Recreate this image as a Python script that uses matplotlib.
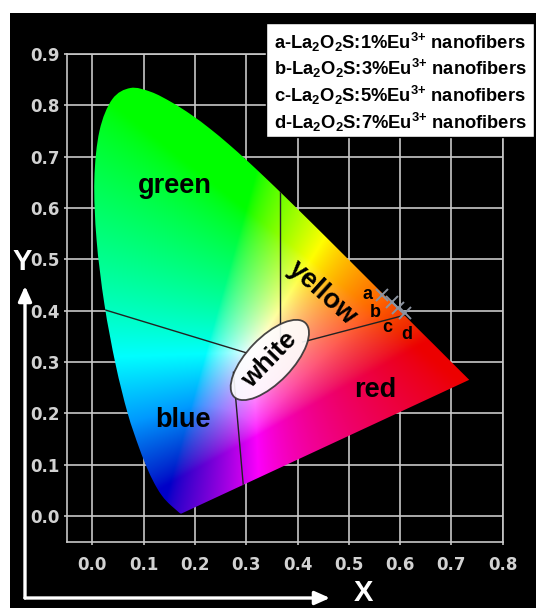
import numpy as np
import matplotlib.pyplot as plt
from matplotlib.path import Path
from matplotlib.patches import PathPatch, Ellipse, Rectangle, FancyArrowPatch

plt.rcParams['mathtext.fontset'] = 'custom'
plt.rcParams['mathtext.rm'] = 'Liberation Sans:bold'
plt.rcParams['mathtext.bf'] = 'Liberation Sans:bold'
plt.rcParams['mathtext.default'] = 'bf'

# CIE 1931 spectral locus (2 deg observer), 380 -> 700 nm
locus_x = [0.1741, 0.1738, 0.1733, 0.1726, 0.1714, 0.1689, 0.1644, 0.1566,
           0.1510, 0.1440, 0.1355, 0.1241, 0.1096, 0.0913, 0.0687, 0.0454,
           0.0235, 0.0082, 0.0039, 0.0139, 0.0389, 0.0743, 0.1142, 0.1547,
           0.1929, 0.2296, 0.2658, 0.3016, 0.3373, 0.3731, 0.4087, 0.4441,
           0.4788, 0.5125, 0.5448, 0.5752, 0.6029, 0.6270, 0.6482, 0.6658,
           0.6915, 0.7079, 0.7190, 0.7260, 0.7300, 0.7334, 0.7347]
locus_y = [0.0050, 0.0049, 0.0048, 0.0048, 0.0051, 0.0069, 0.0109, 0.0177,
           0.0227, 0.0297, 0.0399, 0.0578, 0.0868, 0.1327, 0.2007, 0.2950,
           0.4127, 0.5384, 0.6548, 0.7502, 0.8120, 0.8338, 0.8262, 0.8059,
           0.7816, 0.7543, 0.7243, 0.6923, 0.6589, 0.6245, 0.5896, 0.5547,
           0.5202, 0.4866, 0.4544, 0.4242, 0.3965, 0.3725, 0.3514, 0.3340,
           0.3083, 0.2920, 0.2809, 0.2740, 0.2700, 0.2666, 0.2653]

# colour region names
region_names = ['green', 'yellow', 'blue', 'red']
region_x = [0.161, 0.448, 0.177, 0.551]
region_y = [0.643, 0.435, 0.187, 0.246]
region_rot = [0, -42, 0, 0]

# boundaries between the regions (start, end)
border_x = [(0.366, 0.366), (0.02, 0.30), (0.41, 0.65), (0.275, 0.296)]
border_y = [(0.66, 0.34), (0.403, 0.318), (0.339, 0.402), (0.28, 0.04)]

# chromaticity coordinates of the samples
sample_ids = ['a', 'b', 'c', 'd']
sample_x = [0.565, 0.584, 0.596, 0.609]
sample_y = [0.431, 0.417, 0.405, 0.396]
sample_lab_x = [0.537, 0.552, 0.575, 0.612]
sample_lab_y = [0.431, 0.397, 0.368, 0.354]

legend_lines = [r'a-La$_2$O$_2$S:1%Eu$^{3{+}}$ nanofibers',
                r'b-La$_2$O$_2$S:3%Eu$^{3{+}}$ nanofibers',
                r'c-La$_2$O$_2$S:5%Eu$^{3{+}}$ nanofibers',
                r'd-La$_2$O$_2$S:7%Eu$^{3{+}}$ nanofibers']

xticks = [0.0, 0.1, 0.2, 0.3, 0.4, 0.5, 0.6, 0.7, 0.8]
yticks = [0.0, 0.1, 0.2, 0.3, 0.4, 0.5, 0.6, 0.7, 0.8, 0.9]

W, H = 536, 608
fig = plt.figure(figsize=(W / 100, H / 100), dpi=100)
fig.patch.set_facecolor('white')
fig.patches.append(Rectangle((10 / W, 0), 1, 1 - 13 / H, transform=fig.transFigure,
                             facecolor='black', edgecolor='none', zorder=-5))

ax = fig.add_axes([66.7 / W, 1 - 541.7 / H, 436 / W, 487.7 / H])
ax.set_facecolor('black')
ax.set_xlim(-0.05, 0.8)
ax.set_ylim(-0.05, 0.9)

# xy -> sRGB colour fill of the gamut
gx, gy = np.meshgrid(np.linspace(0.0, 0.75, 600), np.linspace(0.002, 0.85, 680))
XYZ = np.stack([gx / gy, np.ones_like(gx), (1 - gx - gy) / gy])
M = np.array([[3.2406, -1.5372, -0.4986],
              [-0.9689, 1.8758, 0.0415],
              [0.0557, -0.2040, 1.0570]])
lin = np.einsum('ij,jkl->kli', M, XYZ)
lin = np.clip(lin, 0, None)
lin[..., 1] *= 1.1
lin /= lin.max(axis=2, keepdims=True)
lin = lin ** 1.4  # push colours away from the white point
lum = lin @ np.array([0.2126, 0.7152, 0.0722])
lin *= (0.45 + 0.55 * np.clip(lum / 0.3, 0, 1))[..., None]
rgb = np.where(lin <= 0.0031308, 12.92 * lin, 1.055 * lin ** (1 / 2.4) - 0.055)

# smooth outline through the locus points (Catmull-Rom as cubic Beziers)
P = np.column_stack([locus_x, locus_y])
verts, codes = [P[0]], [Path.MOVETO]
for i in range(len(P) - 1):
    p0 = P[max(i - 1, 0)]
    p3 = P[min(i + 2, len(P) - 1)]
    verts += [P[i] + (P[i + 1] - p0) / 6, P[i + 1] - (p3 - P[i]) / 6, P[i + 1]]
    codes += [Path.CURVE4] * 3
verts += [P[0]]
codes += [Path.CLOSEPOLY]
locus = PathPatch(Path(verts, codes), facecolor='none', edgecolor='none',
                  transform=ax.transData)
ax.add_patch(locus)
im = ax.imshow(np.clip(rgb, 0, 1), extent=[0.0, 0.75, 0.002, 0.85], origin='lower',
               interpolation='bilinear', zorder=1, aspect='auto')
im.set_clip_path(locus)

for bx, by in zip(border_x, border_y):
    ln, = ax.plot(bx, by, color='#222222', lw=1.0, zorder=2)
    ln.set_clip_path(locus)

ax.add_patch(Ellipse((0.346, 0.304), 0.2, 0.088, angle=46, facecolor='white',
                     alpha=0.9, edgecolor='#333333', lw=1.3, zorder=3))
ax.text(0.346, 0.304, 'white', rotation=46, ha='center', va='center',
        fontsize=19, fontweight='bold', family='Liberation Sans', zorder=4)

for name, x, y, r in zip(region_names, region_x, region_y, region_rot):
    ax.text(x, y, name, rotation=r, ha='center', va='center', fontsize=19.5,
            fontweight='bold', family='Liberation Sans', zorder=4)

ax.plot(sample_x, sample_y, 'x', color='#8c93a0', ms=8, mew=1.4, zorder=5)
for s, x, y in zip(sample_ids, sample_lab_x, sample_lab_y):
    ax.text(x, y, s, ha='center', va='center', fontsize=13, fontweight='bold',
            family='Liberation Sans', zorder=5)

ax.set_xticks(xticks)
ax.set_yticks(yticks)
ax.set_xticklabels(['%.1f' % v for v in xticks])
ax.set_yticklabels(['%.1f' % v for v in yticks])
ax.grid(True, color='#c8c8c8', lw=1.2)
ax.set_axisbelow(True)
for sp in ax.spines.values():
    sp.set_color('#c8c8c8')
    sp.set_linewidth(1.2)
ax.tick_params(colors='#c8c8c8', length=2, width=1.2, labelcolor='#d2d2d2')
ax.tick_params(axis='x', pad=8)
ax.tick_params(axis='y', pad=3)
for lab in ax.get_xticklabels() + ax.get_yticklabels():
    lab.set_family(['Liberation Sans Narrow', 'DejaVu Sans'])
    lab.set_fontweight('bold')
    lab.set_fontsize(12)

# legend box
fig.patches.append(Rectangle((266 / W, 1 - 137 / H), 268 / W, 114 / H,
                             transform=fig.transFigure, facecolor='white',
                             edgecolor='black', lw=1.0, zorder=5))
for i, t in enumerate(legend_lines):
    fig.text(274 / W, 1 - (42 + 26.7 * i) / H, t, ha='left', va='center',
             fontsize=13.2, fontweight='bold', family='Liberation Sans', zorder=6)

# axis arrows
corner = (25 / W, 1 - 598 / H)
for tip in [(25 / W, 1 - 286 / H), (330 / W, 1 - 598 / H)]:
    fig.patches.append(FancyArrowPatch(corner, tip, transform=fig.transFigure,
                                       arrowstyle='-|>,head_length=9,head_width=4',
                                       color='white', lw=2.4, shrinkA=0, shrinkB=0))
fig.text(22 / W, 1 - 262 / H, 'Y', ha='center', va='center', color='white',
         fontsize=21, fontweight='bold', family='Liberation Sans')
fig.text(363 / W, 1 - 593 / H, 'X', ha='center', va='center', color='white',
         fontsize=21, fontweight='bold', family='Liberation Sans')

fig.savefig('out.png', dpi=100, facecolor=fig.get_facecolor())
